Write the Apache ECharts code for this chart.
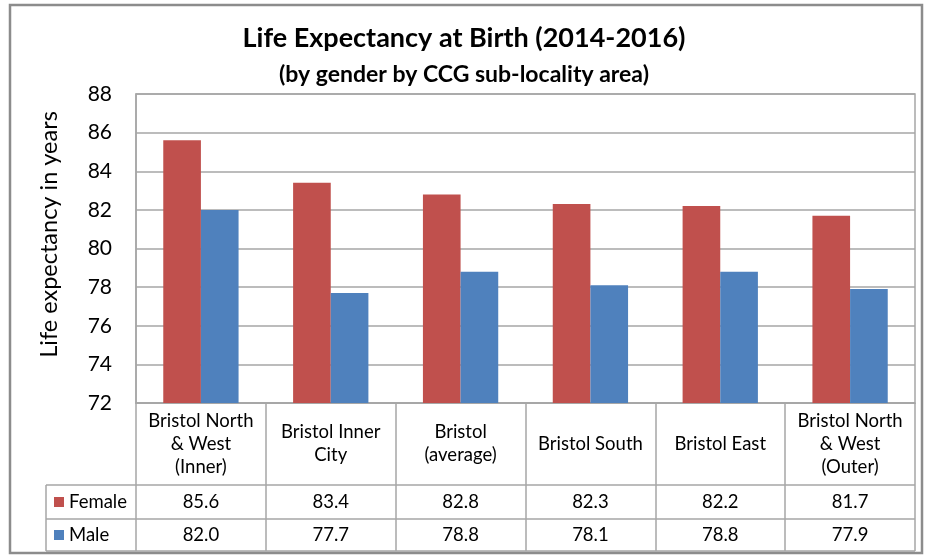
<!DOCTYPE html>
<html lang="en">
<head>
    <meta charset="UTF-8">
    <title>Life Expectancy at Birth</title>
    <script src="https://cdn.jsdelivr.net/npm/echarts/dist/echarts.min.js"></script>
    <style>
        html, body { margin: 0; padding: 0; background: #fff; }
        #chart { width: 928px; height: 555px; }
    </style>
</head>
<body>
<div id="chart"></div>
<script>
    // Data
    var categories = [
        'Bristol North\n& West\n(Inner)',
        'Bristol Inner\nCity',
        'Bristol\n(average)',
        'Bristol South',
        'Bristol East',
        'Bristol North\n& West\n(Outer)'
    ];
    var female = [85.6, 83.4, 82.8, 82.3, 82.2, 81.7];
    var male = [82.0, 77.7, 78.8, 78.1, 78.8, 77.9];
    var seriesNames = ['Female', 'Male'];
    var colors = ['#C0504D', '#4F81BD'];

    var font = 'Lato';
    var lineColor = '#a6a6a6';
    var tableFont = 18.5;

    var chart = echarts.init(document.getElementById('chart'));

    // data table under the category cells
    var tableLeft = 46, tableRight = 915;
    var rowTops = [485, 519, 551];

    var graphics = [
        // outer frame
        { type: 'rect', shape: { x: 10, y: 5, width: 912, height: 548 },
          style: { fill: null, stroke: '#8c8c8c', lineWidth: 2.5 }, z: 100 },
        { type: 'line', shape: { x1: tableLeft, y1: rowTops[0], x2: tableLeft, y2: rowTops[2] },
          style: { stroke: lineColor, lineWidth: 1.5 } }
    ];
    rowTops.forEach(function (y) {
        graphics.push({ type: 'line', shape: { x1: tableLeft, y1: y, x2: tableRight, y2: y },
            style: { stroke: lineColor, lineWidth: 1.5 } });
    });
    seriesNames.forEach(function (name, i) {
        var cy = (rowTops[i] + rowTops[i + 1]) / 2;
        graphics.push({ type: 'rect', shape: { x: 54, y: cy - 5, width: 10, height: 10 },
            style: { fill: colors[i] } });
        graphics.push({ type: 'text', x: 69, y: cy,
            style: { text: name, font: tableFont + 'px ' + font, fill: '#000', verticalAlign: 'middle' } });
    });

    var options = {
        textStyle: { fontFamily: font },
        title: [
            {
                text: 'Life Expectancy at Birth (2014-2016)',
                left: 'center', top: 20,
                textStyle: { fontSize: 27, fontWeight: 'bold', color: '#000', fontFamily: font }
            },
            {
                text: '(by gender by CCG sub-locality area)',
                left: 'center', top: 58,
                textStyle: { fontSize: 23, fontWeight: 'bold', color: '#000', fontFamily: font }
            }
        ],
        grid: {
            left: 136, right: 13, top: 94, bottom: 152,
            show: true, borderColor: lineColor, borderWidth: 1.5
        },
        yAxis: {
            type: 'value', min: 72, max: 88, interval: 2,
            name: 'Life expectancy in years',
            nameLocation: 'middle', nameGap: 75, nameRotate: 90,
            nameTextStyle: { fontSize: 23.5, color: '#000', fontFamily: font, padding: [0, 0, 0, 28] },
            axisLine: { show: true, lineStyle: { color: lineColor, width: 1.5 } },
            axisTick: { show: false },
            axisLabel: { fontSize: 21, color: '#000', margin: 24, fontFamily: font },
            splitLine: { lineStyle: { color: lineColor, width: 1.5 } }
        },
        xAxis: [
            {
                type: 'category', data: categories,
                axisLine: { lineStyle: { color: lineColor, width: 1.5 } },
                axisTick: { show: true, length: 148, lineStyle: { color: lineColor, width: 1.5 } },
                axisLabel: { fontSize: tableFont, lineHeight: 23, color: '#000', margin: 41,
                    verticalAlign: 'middle', interval: 0, fontFamily: font }
            },
            {
                type: 'category', position: 'bottom', offset: 99,
                data: female.map(function (v) { return v.toFixed(1); }),
                axisLine: { show: false }, axisTick: { show: false },
                axisLabel: { fontSize: tableFont, color: '#000', margin: 0, verticalAlign: 'middle',
                    interval: 0, fontFamily: font }
            },
            {
                type: 'category', position: 'bottom', offset: 132,
                data: male.map(function (v) { return v.toFixed(1); }),
                axisLine: { show: false }, axisTick: { show: false },
                axisLabel: { fontSize: tableFont, color: '#000', margin: 0, verticalAlign: 'middle',
                    interval: 0, fontFamily: font }
            }
        ],
        series: [
            {
                name: seriesNames[0], type: 'bar', data: female,
                barGap: '0%', barCategoryGap: '42%',
                itemStyle: { color: colors[0] }
            },
            {
                name: seriesNames[1], type: 'bar', data: male,
                itemStyle: { color: colors[1] }
            }
        ],
        graphic: graphics,
        animation: false
    };

    chart.setOption(options);
</script>
</body>
</html>
